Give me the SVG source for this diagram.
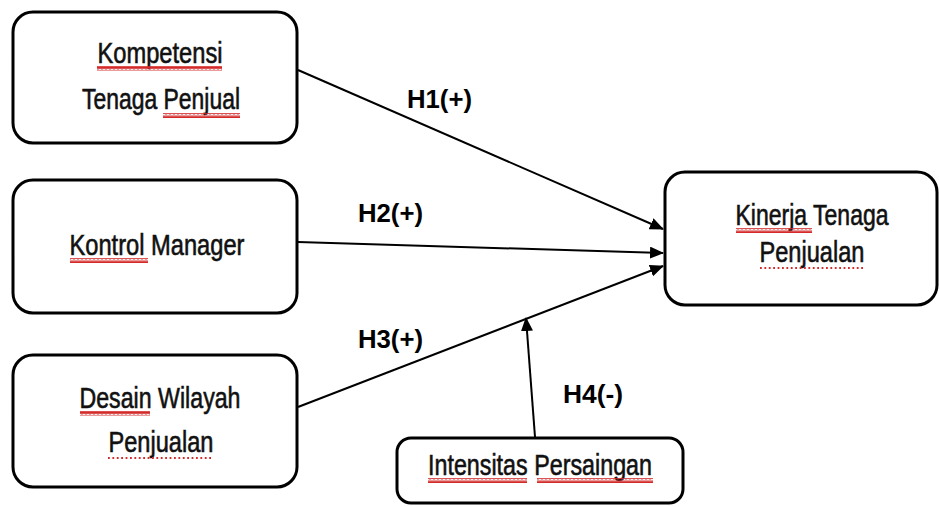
<svg xmlns="http://www.w3.org/2000/svg" width="940" height="507" viewBox="0 0 940 507">
<style>
.box{fill:#fff;stroke:#000;stroke-width:3}
.t{font-family:"Liberation Sans",Arial,sans-serif;font-size:29px;fill:#111;stroke:#111;stroke-width:0.6;text-anchor:middle}
.lbl{font-family:"Liberation Sans",Arial,sans-serif;font-size:25px;font-weight:bold;fill:#000}
.con{stroke:#000;stroke-width:2;fill:none;marker-end:url(#ah)}
.sq{fill:url(#wave)}
.dot{stroke:#d42a2a;stroke-width:1.8;stroke-dasharray:1.8 2.6;fill:none}
</style>
<defs>
<marker id="ah" markerWidth="14" markerHeight="12" refX="13" refY="6" orient="auto" markerUnits="userSpaceOnUse">
<path d="M0,0 L14,6 L0,12 z" fill="#000"/>
</marker>
<pattern id="wave" width="4" height="5" patternUnits="userSpaceOnUse">
<path d="M0,4 L1,1 L2,4 L3,1 L4,4" stroke="#d42a2a" stroke-width="1.2" fill="none"/>
</pattern>
</defs>
<g id="connectors">
<line class="con" x1="298" y1="70" x2="663" y2="229"/>
<line class="con" x1="298" y1="242" x2="663" y2="253"/>
<line class="con" x1="298" y1="407" x2="663" y2="266"/>
<line class="con" x1="535" y1="437" x2="526" y2="318"/>
<text class="lbl" x="407" y="108" textLength="65" lengthAdjust="spacingAndGlyphs">H1(+)</text>
<text class="lbl" x="358" y="222" textLength="65" lengthAdjust="spacingAndGlyphs">H2(+)</text>
<text class="lbl" x="358" y="348" textLength="65" lengthAdjust="spacingAndGlyphs">H3(+)</text>
<text class="lbl" x="563" y="403" textLength="60" lengthAdjust="spacingAndGlyphs">H4(-)</text>
</g>
<g id="n1">
<rect class="box" x="13" y="12" width="284" height="131" rx="20"/>
<text class="t" x="160" y="63" textLength="125" lengthAdjust="spacingAndGlyphs">Kompetensi</text>
<text class="t" x="161" y="109" textLength="158" lengthAdjust="spacingAndGlyphs">Tenaga Penjual</text>
<rect class="sq" x="97" y="66" width="125" height="5"/>
<rect class="sq" x="163" y="113" width="77" height="5"/>
</g>
<g id="n2">
<rect class="box" x="13" y="180" width="284" height="133" rx="20"/>
<text class="t" x="157" y="255" textLength="175" lengthAdjust="spacingAndGlyphs">Kontrol Manager</text>
<rect class="sq" x="70" y="258" width="78" height="5"/>
</g>
<g id="n3">
<rect class="box" x="13" y="355" width="284" height="132" rx="20"/>
<text class="t" x="160" y="408" textLength="161" lengthAdjust="spacingAndGlyphs">Desain Wilayah</text>
<text class="t" x="161" y="452" textLength="105" lengthAdjust="spacingAndGlyphs">Penjualan</text>
<rect class="sq" x="80" y="411" width="70" height="5"/>
<line class="dot" x1="108" y1="458" x2="213" y2="458"/>
</g>
<g id="n5">
<rect class="box" x="665" y="172" width="272" height="133" rx="20"/>
<text class="t" x="812" y="225" textLength="153" lengthAdjust="spacingAndGlyphs">Kinerja Tenaga</text>
<text class="t" x="812" y="262" textLength="105" lengthAdjust="spacingAndGlyphs">Penjualan</text>
<rect class="sq" x="736" y="228" width="76" height="5"/>
<line class="dot" x1="760" y1="268" x2="865" y2="268"/>
</g>
<g id="n4">
<rect class="box" x="397" y="438" width="286" height="65" rx="14"/>
<text class="t" x="540" y="475" textLength="224" lengthAdjust="spacingAndGlyphs">Intensitas Persaingan</text>
<rect class="sq" x="428" y="478" width="99" height="5"/>
<rect class="sq" x="537" y="478" width="116" height="5"/>
</g>
</svg>
